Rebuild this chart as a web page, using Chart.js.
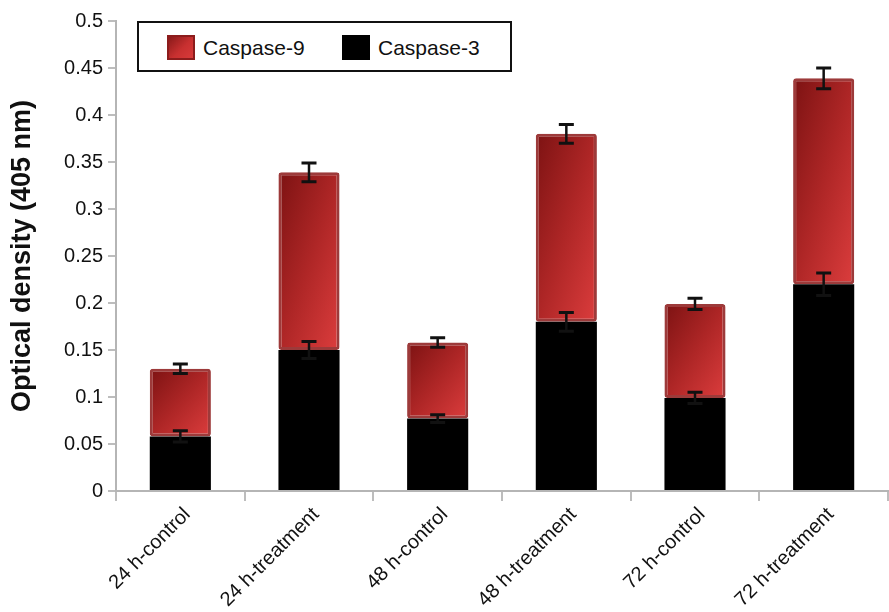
<!DOCTYPE html>
<html>
<head>
<meta charset="utf-8">
<script src="https://cdn.jsdelivr.net/npm/chart.js@4/dist/chart.umd.min.js"></script>
<style>
html,body{margin:0;padding:0;background:#fff;}
#wrap{position:relative;width:889px;height:612px;overflow:hidden;}
#legend{position:absolute;left:137px;top:21px;width:375px;height:51px;box-sizing:border-box;border:2px solid #111;background:#fff;font-family:"Liberation Sans",Arial,sans-serif;font-size:21px;color:#111;}
#legend .sw{position:absolute;top:12px;width:28px;height:25px;box-sizing:border-box;}
#legend .tx{position:absolute;top:12px;height:25px;line-height:25px;white-space:nowrap;}
</style>
</head>
<body>
<div id="wrap">
<canvas id="c" width="889" height="612"></canvas>
<div id="legend"></div>
</div>
<script>
// ---- data ----
const categories = ['24 h-control', '24 h-treatment', '48 h-control', '48 h-treatment', '72 h-control', '72 h-treatment'];
const caspase3 = [0.058, 0.150, 0.077, 0.180, 0.099, 0.220];
const caspase9 = [0.072, 0.189, 0.081, 0.200, 0.100, 0.219];
const caspase3Err = [0.006, 0.009, 0.004, 0.010, 0.006, 0.012];
const caspase9Err = [0.005, 0.010, 0.005, 0.010, 0.006, 0.011];
const yTickLabels = ['0', '0.05', '0.1', '0.15', '0.2', '0.25', '0.3', '0.35', '0.4', '0.45', '0.5'];
const seriesNames = ['Caspase-3', 'Caspase-9'];
const yTitle = 'Optical density (405 nm)';

const FONT = '"Liberation Sans", Arial, Helvetica, sans-serif';
const BAR_FRACTION = 0.95 * 0.5;

// gradient whose value grows equally from left to right and from top to bottom
function redGradient(ctx) {
  const chart = ctx.chart;
  const xs = chart.scales.x, ys = chart.scales.y;
  if (!xs || !ys || ctx.dataIndex === undefined || !chart.chartArea) return '#b02828';
  const i = ctx.dataIndex;
  const cx = xs.getPixelForValue(i);
  const w = (xs.width / categories.length) * BAR_FRACTION;
  const top = ys.getPixelForValue(caspase3[i] + caspase9[i]);
  const bot = ys.getPixelForValue(caspase3[i]);
  const h = Math.max(bot - top, 1);
  const k = 2 / (1 / (w * w) + 1 / (h * h));
  const x0 = cx - w / 2, y0 = top;
  const g = chart.ctx.createLinearGradient(x0, y0, x0 + k / w, y0 + k / h);
  g.addColorStop(0, '#7c1212');
  g.addColorStop(0.5, '#ae2626');
  g.addColorStop(1, '#dc3d3d');
  return g;
}

const errorBars = {
  id: 'errorBars',
  afterDatasetsDraw(chart) {
    const {ctx, scales: {y}} = chart;
    const errs = [caspase3Err, caspase9Err];
    ctx.save();
    ctx.strokeStyle = '#111';
    chart.data.datasets.forEach((ds, di) => {
      const meta = chart.getDatasetMeta(di);
      meta.data.forEach((bar, i) => {
        const top = di === 0 ? caspase3[i] : caspase3[i] + caspase9[i];
        const e = errs[di][i];
        const yHi = y.getPixelForValue(top + e);
        const yLo = y.getPixelForValue(top - e);
        const cx = bar.x;
        const cap = 7.5;
        ctx.lineWidth = 2.5;
        ctx.beginPath();
        ctx.moveTo(cx, yHi); ctx.lineTo(cx, yLo);
        ctx.stroke();
        ctx.lineWidth = 3;
        ctx.beginPath();
        ctx.moveTo(cx - cap, yHi); ctx.lineTo(cx + cap, yHi);
        ctx.moveTo(cx - cap, yLo); ctx.lineTo(cx + cap, yLo);
        ctx.stroke();
      });
    });
    ctx.restore();
  }
};

const chart = new Chart(document.getElementById('c'), {
  type: 'bar',
  data: {
    labels: categories,
    datasets: [
      {
        label: seriesNames[0],
        data: caspase3,
        backgroundColor: '#000000',
        borderWidth: 0,
        barPercentage: 0.95,
        categoryPercentage: 0.5
      },
      {
        label: seriesNames[1],
        data: caspase9,
        backgroundColor: redGradient,
        borderColor: 'rgba(140,24,24,0.85)',
        borderWidth: 3,
        borderRadius: 3,
        borderSkipped: false,
        barPercentage: 0.95,
        categoryPercentage: 0.5
      }
    ]
  },
  options: {
    responsive: false,
    animation: false,
    devicePixelRatio: 1,
    layout: {padding: {top: 21, right: 1, left: 0, bottom: 0}},
    plugins: {legend: {display: false}, tooltip: {enabled: false}},
    scales: {
      x: {
        stacked: true,
        grid: {offset: true, drawOnChartArea: false, drawTicks: true, tickLength: 10, color: '#bdbdbd', lineWidth: 2},
        border: {color: '#b5b5b5', width: 2},
        ticks: {autoSkip: false, maxRotation: 45, minRotation: 45, color: '#111', padding: 2, labelOffset: 7,
          font: {family: FONT, size: 20}},
        afterFit(s) { s.height = 121; }
      },
      y: {
        stacked: true,
        min: 0,
        max: 0.5,
        grid: {drawOnChartArea: false, drawTicks: true, tickLength: 8, color: '#bdbdbd', lineWidth: 2},
        border: {color: '#b5b5b5', width: 2},
        ticks: {stepSize: 0.05, color: '#111', padding: 5, font: {family: FONT, size: 20},
          callback: (v, i) => yTickLabels[i]},
        title: {display: true, text: yTitle, color: '#111', padding: {top: 6, bottom: 0},
          font: {family: FONT, size: 27, weight: 'bold'}},
        afterFit(s) { s.width = 116; }
      }
    }
  },
  plugins: [errorBars]
});

// legend (Caspase-9 first, as in the reference)
const legend = document.getElementById('legend');
const items = [
  {name: seriesNames[1], sw: 'background:linear-gradient(135deg,#8a1a1a,#c83030 55%,#d83a3a);border:2px solid #8c1c1c;', swLeft: 28, txLeft: 64},
  {name: seriesNames[0], sw: 'background:#000;', swLeft: 203, txLeft: 239}
];
items.forEach(it => {
  const s = document.createElement('div');
  s.className = 'sw'; s.style.cssText = it.sw + 'left:' + it.swLeft + 'px;';
  const t = document.createElement('div');
  t.className = 'tx'; t.style.left = it.txLeft + 'px'; t.textContent = it.name;
  legend.appendChild(s); legend.appendChild(t);
});
</script>
</body>
</html>
